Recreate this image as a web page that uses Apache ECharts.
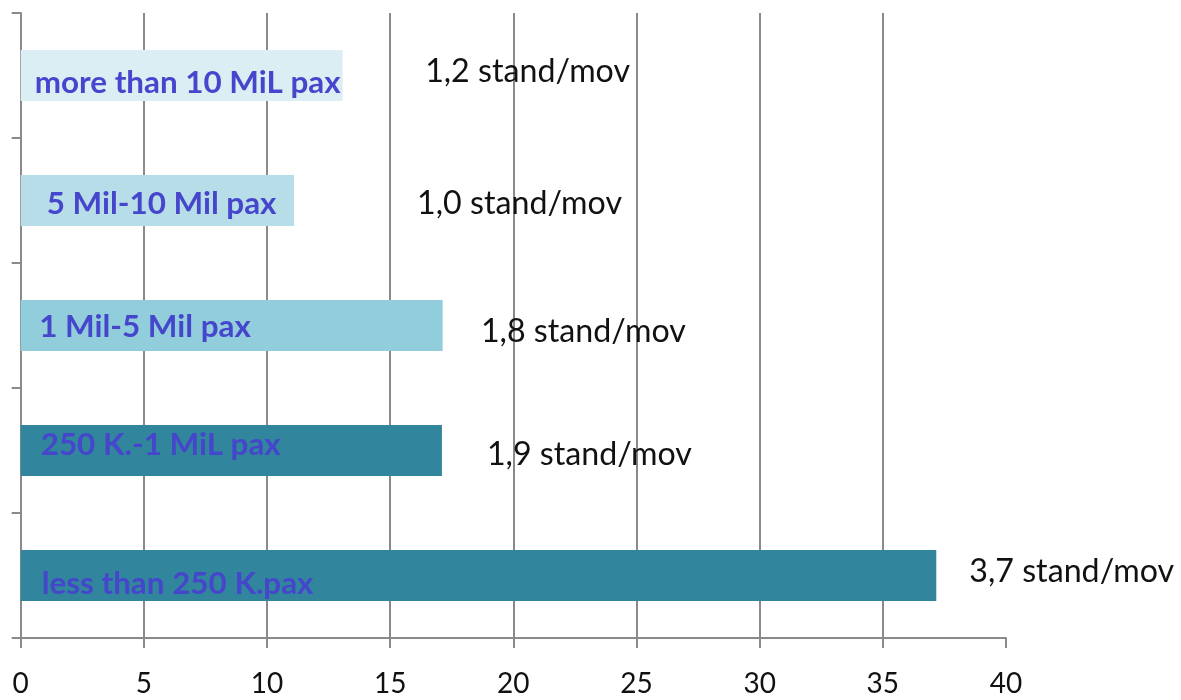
<!DOCTYPE html>
<html><head><meta charset="utf-8">
<script src="https://cdn.jsdelivr.net/npm/echarts@6/dist/echarts.min.js"></script>
<style>html,body{margin:0;padding:0;background:#fff}#c{width:1181px;height:700px}</style>
</head><body><div id="c"></div>
<script>
// data (top to bottom)
const categories = ['more than 10 MiL pax', '5 Mil-10 Mil pax', '1 Mil-5 Mil pax', '250 K.-1 MiL pax', 'less than 250 K.pax'];
const values = [13.07, 11.1, 17.13, 17.1, 37.17];
const ratioLabels = ['1,2 stand/mov', '1,0 stand/mov', '1,8 stand/mov', '1,9 stand/mov', '3,7 stand/mov'];
const xMin = 0, xMax = 40, xStep = 5;

// styles
const barColors = ['#dbeef4', '#b7dde8', '#92cddc', '#31859c', '#31859c'];
const insideShift = [[14, 7.5], [26, 3], [18.5, 1], [20, -6], [21, 8]];
const rightShift = [[82.5, -3.5], [123, 3], [38.3, 6], [45, 4], [33, -4]];
const FONT = 'Lato';

const chart = echarts.init(document.getElementById('c'), null, {renderer: 'canvas'});
const gridColor = '#8a8a8a';

chart.setOption({
  animation: false,
  backgroundColor: '#ffffff',
  grid: {left: 20.7, right: 175, top: 13, bottom: 62, containLabel: false},
  xAxis: {
    type: 'value', min: xMin, max: xMax, interval: xStep,
    axisLine: {show: true, lineStyle: {color: gridColor, width: 2}},
    axisTick: {show: true, length: 10, lineStyle: {color: gridColor, width: 2}},
    axisLabel: {color: '#111', fontSize: 28, fontFamily: FONT, margin: 32},
    splitLine: {show: true, showMinLine: false, showMaxLine: false, lineStyle: {color: gridColor, width: 2}}
  },
  yAxis: {
    type: 'category', inverse: true, data: categories,
    axisLine: {show: true, lineStyle: {color: gridColor, width: 2}},
    axisTick: {show: true, length: 9, lineStyle: {color: gridColor, width: 2}},
    axisLabel: {show: false},
    splitLine: {show: false}
  },
  series: [
    {
      type: 'bar', barWidth: 51, z: 2,
      data: values.map((v, i) => ({
        value: v,
        itemStyle: {color: barColors[i]},
        label: {offset: insideShift[i]}
      })),
      label: {
        show: true, position: 'insideLeft', distance: 0,
        formatter: '{b}', color: '#4646cc', fontFamily: FONT, fontWeight: 'bold', fontSize: 31.4
      }
    },
    {
      type: 'bar', barWidth: 51, barGap: '-100%', z: 3, silent: true,
      itemStyle: {color: 'rgba(0,0,0,0)'},
      data: values.map((v, i) => ({
        value: v,
        label: {offset: rightShift[i], formatter: ratioLabels[i]}
      })),
      label: {
        show: true, position: 'right', distance: 0,
        color: '#111', fontFamily: FONT, fontSize: 32.2
      }
    }
  ]
});
</script>
</body></html>
